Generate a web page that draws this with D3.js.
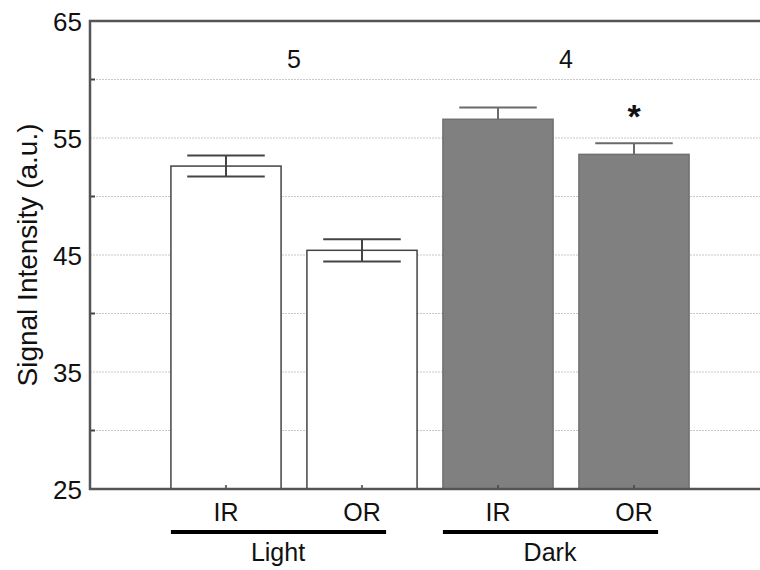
<!DOCTYPE html>
<html>
<head>
<meta charset="utf-8">
<script src="https://cdn.jsdelivr.net/npm/d3@7"></script>
<style>
  body { margin: 0; background: #fff; }
  text { font-family: Arial, "Liberation Sans", sans-serif; fill: #111; }
</style>
</head>
<body>
<div id="chart"></div>
<script>
// bar data
const conditions = ["IR", "OR", "IR", "OR"];
const groups = ["Light", "Light", "Dark", "Dark"];
const means = [52.6, 45.4, 56.6, 53.6];
const errors = [0.9, 0.95, 1.0, 0.95];
const fills = ["white", "white", "dark", "dark"];
const groupNames = ["Light", "Dark"];
const groupCounts = ["5", "4"];
const yTicks = [25, 35, 45, 55, 65];
const gridTicks = [25, 30, 35, 40, 45, 50, 55, 60, 65];

const width = 760, height = 570;
const margin = { top: 21, left: 90, bottom: 81 };

const svg = d3.select("#chart")
    .append("svg")
    .attr("width", width)
    .attr("height", height);

const x = d3.scaleLinear()
    .domain([0, 5])
    .range([margin.left, margin.left + 680]);

const y = d3.scaleLinear()
    .domain([25, 65])
    .range([height - margin.bottom, margin.top]);

const barW = x(0.81) - x(0);
const capW = x(0.57) - x(0);

// dotted grid
svg.selectAll(".grid")
    .data(gridTicks.filter(d => d > 25 && d < 65))
    .enter().append("line")
    .attr("class", "grid")
    .attr("x1", x(0)).attr("x2", width)
    .attr("y1", d => y(d)).attr("y2", d => y(d))
    .attr("stroke", "#c8c8c8")
    .attr("stroke-width", 1)
    .attr("stroke-dasharray", "2,1");

const data = means.map((m, i) => ({ pos: i + 1, mean: m, err: errors[i], fill: fills[i] }));

// bars
svg.selectAll(".bar")
    .data(data)
    .enter().append("rect")
    .attr("class", "bar")
    .attr("x", d => x(d.pos) - barW / 2)
    .attr("y", d => y(d.mean))
    .attr("width", barW)
    .attr("height", d => y(25) - y(d.mean))
    .attr("fill", d => d.fill === "dark" ? "#808080" : "#fff")
    .attr("stroke", d => d.fill === "dark" ? "#707070" : "#444")
    .attr("stroke-width", 1.5);

// error bars
const eb = svg.selectAll(".err")
    .data(data)
    .enter().append("g")
    .attr("class", "err")
    .attr("stroke", d => d.fill === "dark" ? "#6a6a6a" : "#444")
    .attr("stroke-width", 2);

eb.append("line")
    .attr("x1", d => x(d.pos)).attr("x2", d => x(d.pos))
    .attr("y1", d => y(d.mean + d.err))
    .attr("y2", d => y(d.fill === "dark" ? d.mean : d.mean - d.err));

eb.append("line")
    .attr("x1", d => x(d.pos) - capW / 2).attr("x2", d => x(d.pos) + capW / 2)
    .attr("y1", d => y(d.mean + d.err)).attr("y2", d => y(d.mean + d.err));

eb.filter(d => d.fill !== "dark").append("line")
    .attr("x1", d => x(d.pos) - capW / 2).attr("x2", d => x(d.pos) + capW / 2)
    .attr("y1", d => y(d.mean - d.err)).attr("y2", d => y(d.mean - d.err));

// axes
const yAxis = svg.append("g")
    .attr("transform", `translate(${x(0)},0)`)
    .call(d3.axisLeft(y).tickValues(yTicks).tickSize(0).tickPadding(8));
yAxis.select(".domain").remove();
yAxis.selectAll("text").style("font-size", "26px").attr("dy", "0.36em");

// minor ticks pointing inward
svg.selectAll(".minor")
    .data(gridTicks.filter(d => d % 10 === 0))
    .enter().append("line")
    .attr("x1", x(0)).attr("x2", x(0) + 5)
    .attr("y1", d => y(d)).attr("y2", d => y(d))
    .attr("stroke", "#444").attr("stroke-width", 2);

// bottom ticks at bars
svg.selectAll(".xtick")
    .data(data)
    .enter().append("line")
    .attr("x1", d => x(d.pos)).attr("x2", d => x(d.pos))
    .attr("y1", y(25)).attr("y2", y(25) - 4)
    .attr("stroke", "#444").attr("stroke-width", 1.5);

// frame: left, bottom, top
svg.append("path")
    .attr("d", `M${width},${y(65)}H${x(0)}V${y(25)}H${width}`)
    .attr("fill", "none")
    .attr("stroke", "#555")
    .attr("stroke-width", 2.5);

// category labels
svg.selectAll(".cat")
    .data(conditions)
    .enter().append("text")
    .attr("x", (d, i) => x(i + 1))
    .attr("y", 521)
    .attr("text-anchor", "middle")
    .style("font-size", "25px")
    .text(d => d);

// group underlines and names
groupNames.forEach((g, gi) => {
    const idx = groups.map((v, i) => v === g ? i + 1 : null).filter(v => v !== null);
    const x0 = x(d3.min(idx)) - barW / 2;
    const x1 = x(d3.max(idx)) + barW / 2 - 31;
    svg.append("line")
        .attr("x1", x0).attr("x2", x1)
        .attr("y1", 532).attr("y2", 532)
        .attr("stroke", "#000").attr("stroke-width", 4);
    svg.append("text")
        .attr("x", (x(d3.min(idx)) + x(d3.max(idx))) / 2 - 16)
        .attr("y", 561)
        .attr("text-anchor", "middle")
        .style("font-size", "25px")
        .text(g);
    svg.append("text")
        .attr("x", (x(d3.min(idx)) + x(d3.max(idx))) / 2)
        .attr("y", 68)
        .attr("text-anchor", "middle")
        .style("font-size", "25px")
        .text(groupCounts[gi]);
});

// significance marker on Dark OR
svg.append("text")
    .attr("x", x(4))
    .attr("y", y(means[3] + errors[3]) - 15)
    .attr("text-anchor", "middle")
    .style("font-size", "34px")
    .style("font-weight", "bold")
    .text("*");

// y title
svg.append("text")
    .attr("transform", `translate(27,${(y(25) + y(65)) / 2}) rotate(-90)`)
    .attr("text-anchor", "middle")
    .attr("dy", "0.35em")
    .style("font-size", "28px")
    .text("Signal Intensity (a.u.)");
</script>
</body>
</html>
